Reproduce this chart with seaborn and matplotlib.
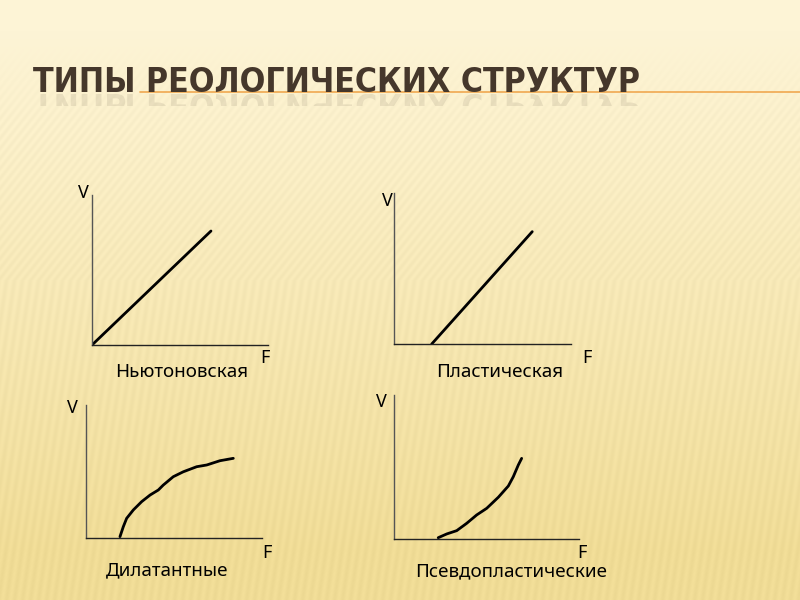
import numpy as np
import matplotlib
matplotlib.use('Agg')
import matplotlib.pyplot as plt
import seaborn as sns
from matplotlib.textpath import TextPath
from matplotlib.patches import PathPatch, Rectangle
from matplotlib.font_manager import FontProperties
from matplotlib.transforms import Affine2D, IdentityTransform

# data (arbitrary units, 0..10 on both axes)
newton_F = [0.0, 6.76]
newton_V = [0.0, 7.6]
plastic_F = [2.13, 7.81]
plastic_V = [0.0, 7.44]
dilatant_F = [1.93, 2.12, 2.31, 2.69, 3.16, 3.64, 4.11, 4.39, 4.96, 5.53, 6.29, 6.86, 7.61, 8.37]
dilatant_V = [0.1, 0.85, 1.48, 2.11, 2.73, 3.23, 3.61, 3.98, 4.61, 4.98, 5.36, 5.49, 5.81, 5.99]
pseudo_F = [2.39, 2.85, 3.39, 3.93, 4.47, 5.01, 5.64, 6.18, 6.45, 6.72, 6.90]
pseudo_V = [0.09, 0.35, 0.58, 1.09, 1.67, 2.13, 2.90, 3.68, 4.33, 5.14, 5.60]
captions = ['Ньютоновская', 'Пластическая', 'Дилатантные', 'Псевдопластические']
title = 'ТИПЫ РЕОЛОГИЧЕСКИХ СТРУКТУР'

sns.set_theme(style='white')
plt.rcParams['font.family'] = ['Noto Sans', 'DejaVu Sans']

W, H = 800, 600
fig = plt.figure(figsize=(8, 6), dpi=100)

def fx(x):
	return x / W

def fy(y):
	return 1 - y / H

# background: cream gradient with soft stripes
yy, xx = np.mgrid[0:H, 0:W].astype(float)
t = np.clip((yy - 30) / 520, 0, 1)
top = np.array([253, 244, 214]) / 255.0
bot = np.array([240, 220, 150]) / 255.0
img = top[None, None, :] * (1 - t[..., None]) + bot[None, None, :] * t[..., None]
slant = np.where(yy < 280, 0.8, 0.15)
stripes = np.sin(2 * np.pi * (xx - slant * (H - yy)) / 8.0)
amp = np.clip((yy - 45) / 80, 0, 1) * 0.012
img = img + (stripes * amp)[..., None]
img = np.clip(img, 0, 1)
bg = fig.add_axes([0, 0, 1, 1])
bg.imshow(img, aspect='auto', extent=[0, W, H, 0])
bg.set_xlim(0, W)
bg.set_ylim(H, 0)
bg.axis('off')

# title with orange rule and faint reflection
tsize = 24.2
title_font = FontProperties(family='DejaVu Sans', stretch='condensed', weight='bold', size=tsize)
bg.plot([140, W], [92, 92], color='#F0A850', lw=1.2)
fig.text(fx(33), fy(92), title, fontproperties=title_font, color='#45372B', va='baseline', ha='left')
tpath = TextPath((0, 0), title, prop=title_font, size=tsize * 100 / 72)
refl = PathPatch(tpath, transform=Affine2D().scale(1, -1).translate(33, H - 94) + IdentityTransform(),
	facecolor='#45372B', edgecolor='none', alpha=0.1)
fig.patches.append(refl)
refl.set_figure(fig)
refl.set_clip_path(Rectangle((0, H - 106), W, 12, transform=IdentityTransform()))

panels = [
	dict(box=(92, 268, 195, 345), F=newton_F, V=newton_V, v=(83, 198), f=(265, 363), c=(182, 377)),
	dict(box=(394, 571, 193, 344), F=plastic_F, V=plastic_V, v=(387, 206), f=(587, 363), c=(500, 377)),
	dict(box=(86, 262, 405, 538), F=dilatant_F, V=dilatant_V, v=(72, 413), f=(267, 558), c=(167, 575)),
	dict(box=(394, 579, 395, 539), F=pseudo_F, V=pseudo_V, v=(381, 407), f=(582, 558), c=(511, 576)),
]

for p, cap in zip(panels, captions):
	l, r, t_, b = p['box']
	ax = fig.add_axes([fx(l), fy(b), (r - l) / W, (b - t_) / H])
	sns.lineplot(x=p['F'], y=p['V'], ax=ax, color='black', lw=2.0, sort=False)
	ax.set_xlim(0, 10)
	ax.set_ylim(0, 10)
	ax.patch.set_alpha(0)
	sns.despine(ax=ax)
	ax.spines['left'].set_color('#555555')
	ax.spines['bottom'].set_color('#222222')
	ax.spines['left'].set_linewidth(1.0)
	ax.spines['bottom'].set_linewidth(1.0)
	ax.set_xticks([])
	ax.set_yticks([])
	fig.text(fx(p['v'][0]), fy(p['v'][1]), 'V', fontsize=13, ha='center', va='baseline', color='black')
	fig.text(fx(p['f'][0]), fy(p['f'][1]), 'F', fontsize=13, ha='center', va='baseline', color='black')
	fig.text(fx(p['c'][0]), fy(p['c'][1]), cap, fontsize=13.5, ha='center', va='baseline', color='black')

fig.savefig('out.png', dpi=100)
